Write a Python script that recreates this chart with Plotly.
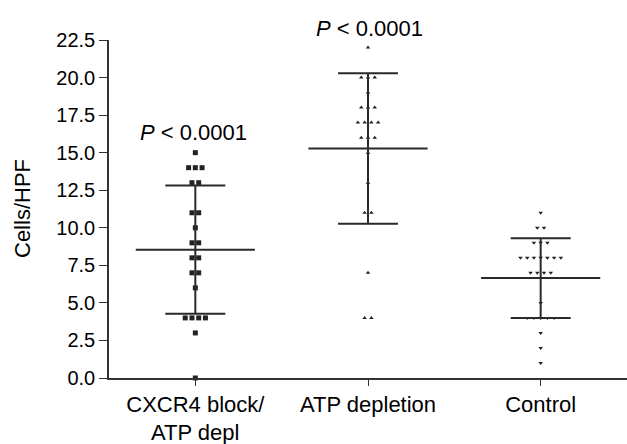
import numpy as np
import plotly.graph_objects as go

categories = ["CXCR4 block/", "ATP depletion", "Control"]
category_second_line = ["ATP depl", "", ""]
cxcr4_vals = [15, 14, 14, 14, 13, 13, 11, 11, 10, 9, 9, 8, 8, 7, 7, 6, 4, 4, 4, 4, 3, 0]
atp_vals = [22, 20, 20, 20, 19, 18, 18, 18, 17, 17, 17, 17, 16, 16, 16, 15, 13, 11, 11, 7, 4, 4]
control_vals = [11, 10, 10, 9, 9, 9, 8, 8, 8, 8, 8, 8, 8, 7, 7, 7, 7, 5, 4, 4, 4, 4, 4, 3, 2, 1]
p_labels = ["<i>P</i> < 0.0001", "<i>P</i> < 0.0001", ""]
y_ticks = [0, 2.5, 5, 7.5, 10, 12.5, 15, 17.5, 20, 22.5]

groups = [cxcr4_vals, atp_vals, control_vals]
symbols = ["square", "triangle-up", "triangle-down"]
sizes = [5, 4, 4]
step = 0.039

FONT = "Liberation Sans, Arial, Helvetica, sans-serif"
L, R, T, B = 109, 0, 40, 66
W, H = 627, 444
PW, PH = W - L - R, H - T - B

def px_x(px):
    return (px - L) / PW

def px_y(py):
    return (H - B - py) / PH

fig = go.Figure()

for gi, vals in enumerate(groups):
    vals = np.array(vals, dtype=float)
    xs = np.zeros_like(vals)
    for v in np.unique(vals):
        idx = np.where(vals == v)[0]
        n = len(idx)
        offs = (np.arange(n) - (n - 1) / 2) * step
        xs[idx] = gi + offs
    fig.add_trace(go.Scatter(
        x=xs, y=vals, mode="markers",
        marker=dict(symbol=symbols[gi], size=sizes[gi], color="#222222", line=dict(width=0)),
        cliponaxis=False, showlegend=False, hoverinfo="y"))
    m = vals.mean()
    sd = vals.std(ddof=1)
    fig.add_trace(go.Scatter(
        x=[gi], y=[m], mode="markers", marker=dict(size=1, color="rgba(0,0,0,0)"),
        error_y=dict(type="data", array=[sd], symmetric=True, width=30, thickness=2, color="#2a2a2a"),
        showlegend=False, hoverinfo="skip"))
    fig.add_trace(go.Scatter(
        x=[gi - 0.345, gi + 0.345], y=[m, m], mode="lines",
        line=dict(color="#2a2a2a", width=2), showlegend=False, hoverinfo="skip"))

# P-value labels (positioned in paper space, pixel-derived)
p_pos = [(193, 132), (369, 28.5)]
for gi, txt in enumerate(p_labels):
    if txt:
        fig.add_annotation(x=px_x(p_pos[gi][0]), y=px_y(p_pos[gi][1]), xref="paper", yref="paper",
                           text=txt, showarrow=False,
                           font=dict(family=FONT, size=22, color="black"),
                           xanchor="center", yanchor="middle")

# second line of first category label
for gi, txt in enumerate(category_second_line):
    if txt:
        fig.add_annotation(x=gi, y=px_y(432), xref="x", yref="paper", text=txt, showarrow=False,
                           font=dict(family=FONT, size=22, color="black"),
                           xanchor="center", yanchor="middle")

# y-axis title
fig.add_annotation(x=px_x(22), y=px_y(209), xref="paper", yref="paper", text="Cells/HPF",
                   textangle=-90, showarrow=False,
                   font=dict(family=FONT, size=22, color="black"),
                   xanchor="center", yanchor="middle")

fig.update_layout(
    width=W, height=H,
    margin=dict(l=L, r=R, t=T, b=B, autoexpand=False),
    paper_bgcolor="white", plot_bgcolor="white",
    font=dict(family=FONT, size=20, color="black"),
    xaxis=dict(range=[-0.5, 2.5], tickvals=[0, 1, 2], ticktext=categories,
               showline=True, linecolor="#333333", linewidth=1.5, ticks="outside",
               ticklen=6, tickcolor="#333333", showgrid=False, zeroline=False,
               automargin=False, tickfont=dict(family=FONT, size=22)),
    yaxis=dict(range=[0, 22.5], tickvals=y_ticks, ticktext=[f"{t:.1f}" for t in y_ticks],
               showline=True, linecolor="#333333", linewidth=1.5, ticks="outside",
               ticklen=8, tickcolor="#333333", showgrid=False, zeroline=False,
               automargin=False, tickfont=dict(family=FONT, size=20)),
)

fig.write_html("out.html", config={"displayModeBar": False},
               post_script="document.body.style.margin='0';document.body.style.overflow='hidden';")
